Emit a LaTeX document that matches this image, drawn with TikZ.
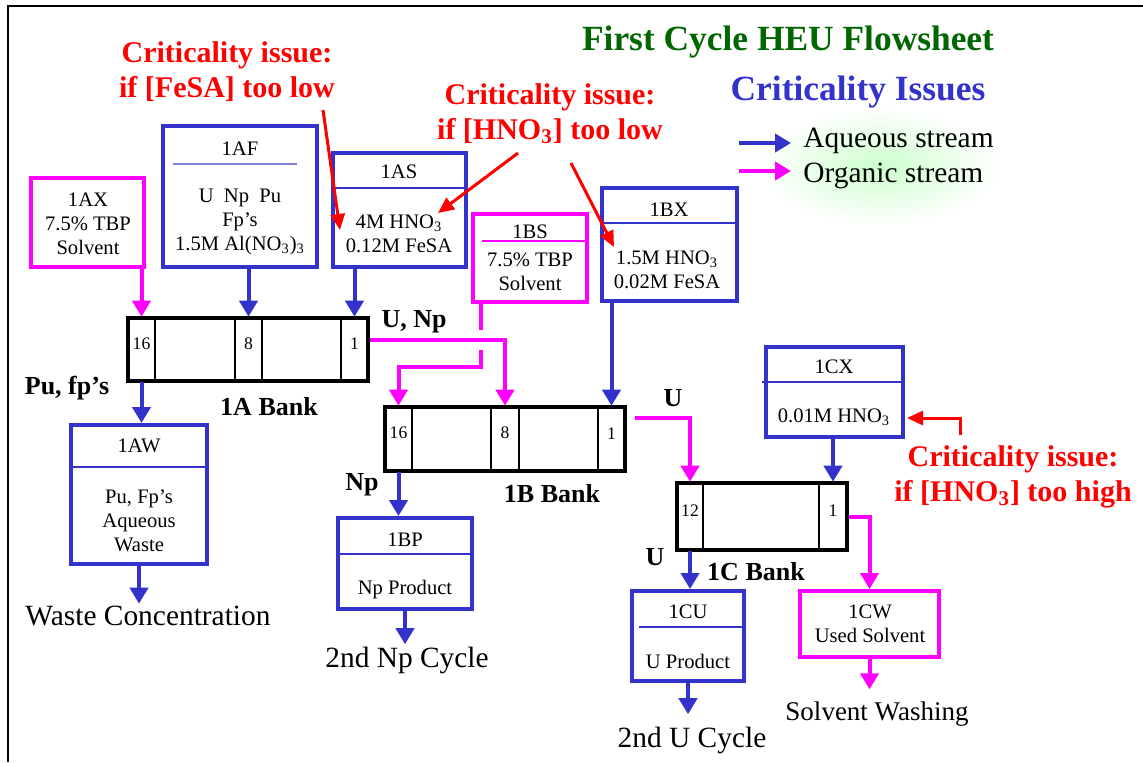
\documentclass[tikz,border=0pt]{standalone}
\usepackage{fontspec}
\setmainfont{Liberation Serif}
\usetikzlibrary{arrows.meta,fit,calc}
\definecolor{aqblue}{HTML}{3333CC}
\definecolor{orgpink}{HTML}{FF00FF}
\definecolor{titlegreen}{HTML}{006600}
\definecolor{dividerblue}{HTML}{8080E0}

\begin{document}
\begin{tikzpicture}[x=0.5pt,y=-0.5pt,
  font=\fontsize{10.3}{12}\selectfont,
  feedbox/.style={draw,line width=2pt,inner sep=0pt},
  aqbox/.style={feedbox,draw=aqblue},
  orgbox/.style={feedbox,draw=orgpink},
  bank/.style={draw,line width=2.3pt,inner sep=0pt},
  bankcell/.style={draw,line width=1.3pt,inner sep=0pt,font=\fontsize{8.8}{10}\selectfont},
  flowline/.style={line width=2pt,-{Triangle[length=8pt,width=9pt]}},
  aqflow/.style={flowline,aqblue},
  orgflow/.style={flowline,orgpink},
  crit/.style={red,font=\fontsize{15}{17.5}\selectfont\bfseries,align=center},
  critarrow/.style={red,line width=1.5pt,-{Triangle[length=8pt,width=7pt]}},
  streamlabel/.style={font=\fontsize{13}{15}\selectfont\bfseries},
  dest/.style={font=\fontsize{14.7}{17}\selectfont,inner sep=1pt},
  divline/.style={aqblue,line width=0.6pt}]
\useasboundingbox (0,0) rectangle (1143,762);
\draw[line width=1pt] (1143,6) -- (8,6) -- (8,762);

% titles and legend
\shade[inner color=green!20,outer color=white] (760,108) rectangle (1000,225);
\node[titlegreen,font=\fontsize{17.7}{20}\selectfont\bfseries] (title) at (788,42) {First Cycle HEU Flowsheet};
\node[aqblue,font=\fontsize{17.7}{20}\selectfont\bfseries] (issues) at (858,92) {Criticality Issues};
\node[dest,anchor=west,inner sep=0pt] (aqtext) at (803,141) {Aqueous stream};
\node[dest,anchor=west,inner sep=0pt] (orgtext) at (803,176) {Organic stream};
\coordinate (aqleg) at (739,143);
\coordinate (orgleg) at (739,171);
\draw[aqflow,shorten >=6pt] (aqleg) -- (aqleg -| aqtext.west);
\draw[orgflow,shorten >=6pt] (orgleg) -- (orgleg -| orgtext.west);

% feed boxes
\node[orgbox,fit={(31,178) (144,267)}] (ax) {};
\node[align=center] (axt) at (88,224) {1AX\\7.5\% TBP\\Solvent};

\node[aqbox,fit={(163,126) (317,267)}] (af) {};
\node (afh) at (240,149) {1AF};
\draw[dividerblue,line width=1pt] (173,164) -- (297,164);
\node[align=center] (afb) at (240,222) {U~~Np~~Pu\\Fp’s\\1.5M Al(NO\textsubscript{3})\textsubscript{3}};

\node[aqbox,fit={(333,153) (466,267)}] (as) {};
\node (ash) at (399,172) {1AS};
\draw[divline] (335,188) -- (464,188);
\node[align=center] (asb) at (399,234) {4M HNO\textsubscript{3}\\0.12M FeSA};

\node[orgbox,fit={(473,214) (587,302)}] (bs) {};
\node (bsh) at (530,232) {1BS};
\draw[orgpink,line width=0.6pt] (482,241) -- (589,241);
\node[align=center] (bsb) at (530,272) {7.5\% TBP\\Solvent};

\node[aqbox,fit={(602,188) (737,301)}] (bx) {};
\node (bxh) at (669,210) {1BX};
\draw[divline] (604,223) -- (735,223);
\node[align=center] (bxb) at (667,270) {1.5M HNO\textsubscript{3}\\0.02M FeSA};

\node[aqbox,fit={(766,347) (903,437)}] (cx) {};
\node (cxh) at (834,367) {1CX};
\draw[divline] (762,382) -- (901,382);
\node (cxb) at (834,417) {0.01M HNO\textsubscript{3}};

% product boxes
\node[aqbox,fit={(71,425) (207,564)}] (aw) {};
\node (awh) at (139,446) {1AW};
\draw[divline] (73,467) -- (207,467);
\node[align=center] (awb) at (139,521) {Pu, Fp’s\\Aqueous\\Waste};

\node[aqbox,fit={(338,518) (472,609)}] (bp) {};
\node (bph) at (405,540) {1BP};
\draw[divline] (340,554) -- (470,554);
\node (bpb) at (405,590) {Np Product};

\node[aqbox,fit={(632,591) (744,681)}] (cu) {};
\node (cuh) at (688,612) {1CU};
\draw[divline] (639,627) -- (746,627);
\node (cub) at (688,661) {U Product};

\node[orgbox,fit={(800,591) (939,657)}] (cw) {};
\node[align=center] (cwt) at (870,624) {1CW\\Used Solvent};

% banks
\node[bank,fit={(128,318) (368,381)}] (bA) {};
\node[bankcell,fit={(128,318) (155,381)}] (a16) {16};
\node[bankcell,fit={(235,318) (262,381)}] (a8) {8};
\node[bankcell,fit={(341,318) (368,381)}] (a1) {1};

\node[bank,fit={(385,407) (625,471)}] (bB) {};
\node[bankcell,fit={(385,407) (412,471)}] (b16) {16};
\node[bankcell,fit={(491,407) (519,471)}] (b8) {8};
\node[bankcell,fit={(598,407) (625,471)}] (b1) {1};

\node[bank,fit={(677,483) (847,550)}] (bC) {};
\node[bankcell,fit={(677,483) (703,550)}] (c12) {12};
\node[bankcell,fit={(819,483) (847,550)}] (c1) {1};

% stream labels
\node[streamlabel] (pufp) at (67,388) {Pu, fp’s};
\node[streamlabel] (alabel) at (269,407) {1A Bank};
\node[streamlabel] (unp) at (414,322) {U, Np};
\node[streamlabel] (nplabel) at (362,485) {Np};
\node[streamlabel] (blabel) at (552,494) {1B Bank};
\node[streamlabel] (ulabel) at (673,398) {U};
\node[streamlabel] (ulabelc) at (655,557) {U};
\node[streamlabel] (clabel) at (756,572) {1C Bank};

% destinations
\node[dest] (wc) at (148,616) {Waste Concentration};
\node[dest] (npc) at (407,660) {2nd Np Cycle};
\node[dest] (uc) at (692,740) {2nd U Cycle};
\node[dest,font=\fontsize{13.5}{16}\selectfont] (sw) at (877,714) {Solvent Washing};

% flows
\draw[orgflow] (ax.south -| a16) -- (a16.north);
\draw[aqflow] (af.south -| a8) -- (a8.north);
\draw[aqflow] (as.south -| a1) -- (a1.north);
\draw[orgflow] ([yshift=5pt]bA.east) -| (b8.north);
\draw[line width=2pt,orgpink] ([xshift=5pt]bs.south west) -- ++(0,26);
\draw[orgflow] ([xshift=5pt]bs.south west) ++(0,46) -- ++(0,17) -| (b16.north);
\draw[aqflow] (bx.south -| b1) -- (b1.north);
\draw[orgflow] ([xshift=4pt,yshift=10.5pt]bB.east) -| (c12.north);
\draw[aqflow] (cx.south -| c1) -- (c1.north);
\draw[orgflow] (bC.east) -| (cw.north);
\draw[aqflow] (a16.south) -- (a16.south |- aw.north);
\draw[aqflow] (b16.south) -- (b16.south |- bp.north);
\draw[aqflow] (c12.south) -- (c12.south |- cu.north);
\draw[aqflow] (aw.south) -- (aw.south |- wc.north);
\draw[aqflow] (bp.south) -- (bp.south |- npc.north);
\draw[aqflow] (cu.south) -- ([yshift=5pt]cu.south |- uc.north);
\draw[orgflow] (cw.south) -- ([yshift=5pt]cw.south |- sw.north);

% criticality issues
\node[crit] (crit1) at (227,72) {Criticality issue:\\if [FeSA] too low};
\node[crit] (crit2) at (550,114) {Criticality issue:\\if [HNO\textsubscript{3}] too low};
\node[crit] (crit3) at (1013,477) {Criticality issue:\\if [HNO\textsubscript{3}] too high};
\coordinate (fesafrom) at (323,110);
\coordinate (fesato) at (340,230);
\coordinate (hnofrom) at (518,153);
\coordinate (hnoto) at (438,213);
\coordinate (hnofromb) at (571,163);
\coordinate (hnotob) at (614,247);
\coordinate (highfrom) at (960,435);
\coordinate (highto) at (907,418);
\draw[critarrow] (fesafrom) -- (fesato);
\draw[critarrow] (hnofrom) -- (hnoto);
\draw[critarrow] (hnofromb) -- (hnotob);
\draw[critarrow] (highfrom) |- (highto);
\end{tikzpicture}
\end{document}
